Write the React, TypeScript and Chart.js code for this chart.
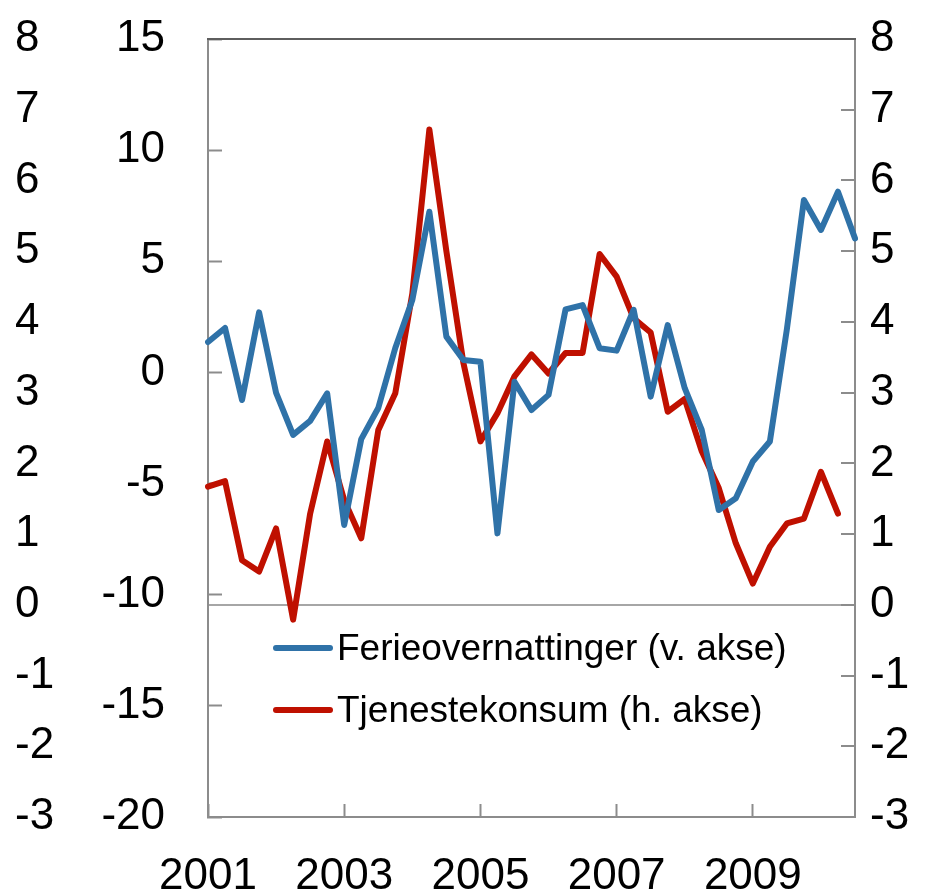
import React, { useEffect, useRef } from "react";
import { Chart, registerables } from "chart.js";

Chart.register(...registerables);

const years = [2001, 2002, 2003, 2004, 2005, 2006, 2007, 2008, 2009, 2010];
const quarters: string[] = [];
years.forEach((y) => {
  for (let q = 1; q <= 4; q++) quarters.push(`${y}K${q}`);
});
const categories = quarters.slice(0, 39); // 2001K1 .. 2010K3

const ferieovernattinger = [
  1.37, 2.0, -1.24, 2.7, -0.92, -2.81, -2.18, -0.94, -6.86, -3.0,
  -1.6, 1.1, 3.26, 7.23, 1.61, 0.56, 0.48, -7.24, -0.42, -1.69,
  -1.01, 2.84, 3.03, 1.09, 0.98, 2.82, -1.09, 2.13, -0.71, -2.59,
  -6.19, -5.66, -4.01, -3.11, 1.95, 7.76, 6.41, 8.13, 6.03,
];

const tjenestekonsum = [
  1.67, 1.75, 0.63, 0.47, 1.08, -0.21, 1.29, 2.31, 1.48, 0.94,
  2.47, 2.99, 4.4, 6.72, 5.0, 3.42, 2.31, 2.71, 3.23, 3.54,
  3.27, 3.56, 3.56, 4.96, 4.64, 4.05, 3.85, 2.73, 2.91, 2.17,
  1.65, 0.87, 0.3, 0.82, 1.15, 1.22, 1.88, 1.29,
];

const leftTicks = { min: -20, max: 15, step: 5 };
const rightTicks = { min: -3, max: 8, step: 1 };
const labelEvery = 8;

const seriesNames = ["Ferieovernattinger (v. akse)", "Tjenestekonsum (h. akse)"];
const seriesColors = ["#2f72a8", "#bf1000"];

const FONT = "'Liberation Sans', Arial, sans-serif";
const AXIS_GRAY = "#8c8c8c";
const LINE_W = 6;

const noPad = (s: any) => {
  s.paddingTop = 0;
  s.paddingBottom = 0;
  s.paddingLeft = 0;
  s.paddingRight = 0;
};

const legendPlugin = {
  id: "insideLegend",
  afterDraw(chart: any) {
    const { ctx, chartArea } = chart;
    ctx.save();
    const x0 = chartArea.left + 68;
    const rows = [chartArea.top + 609, chartArea.top + 671];
    chart.data.datasets.forEach((ds: any, i: number) => {
      const y = rows[i];
      ctx.strokeStyle = ds.borderColor;
      ctx.lineWidth = LINE_W;
      ctx.lineCap = "round";
      ctx.beginPath();
      ctx.moveTo(x0, y);
      ctx.lineTo(x0 + 54, y);
      ctx.stroke();
      ctx.fillStyle = "#000";
      ctx.font = `37px ${FONT}`;
      ctx.textBaseline = "middle";
      ctx.textAlign = "left";
      ctx.fillText(ds.label, x0 + 61, y + 2);
    });
    ctx.restore();
  },
};

export default function App() {
  const ref = useRef<HTMLCanvasElement | null>(null);

  useEffect(() => {
    if (!ref.current) return;
    const tickFont = { family: FONT, size: 44 };
    const chart = new Chart(ref.current, {
      type: "line",
      data: {
        labels: categories,
        datasets: [
          {
            label: seriesNames[0],
            data: ferieovernattinger,
            borderColor: seriesColors[0],
            backgroundColor: seriesColors[0],
            borderWidth: LINE_W,
            pointRadius: 0,
            tension: 0,
            borderJoinStyle: "round",
            borderCapStyle: "round",
            yAxisID: "y",
          },
          {
            label: seriesNames[1],
            data: tjenestekonsum,
            borderColor: seriesColors[1],
            backgroundColor: seriesColors[1],
            borderWidth: LINE_W,
            pointRadius: 0,
            tension: 0,
            borderJoinStyle: "round",
            borderCapStyle: "round",
            yAxisID: "y1",
          },
        ],
      },
      options: {
        responsive: false,
        animation: false,
        layout: { padding: { left: 15, top: 39, right: 0, bottom: 0 } },
        plugins: {
          legend: { display: false },
          tooltip: { enabled: false },
        },
        scales: {
          yOuter: {
            type: "linear",
            position: "left",
            weight: 1,
            min: rightTicks.min,
            max: rightTicks.max,
            ticks: {
              stepSize: rightTicks.step,
              crossAlign: "far",
              font: tickFont,
              color: "#000",
              padding: 0,
            },
            grid: { display: false },
            border: { display: false },
            afterFit: (s: any) => {
              s.width = 78;
              noPad(s);
            },
          },
          y: {
            type: "linear",
            position: "left",
            weight: 0,
            min: leftTicks.min,
            max: leftTicks.max,
            ticks: {
              stepSize: leftTicks.step,
              font: tickFont,
              color: "#000",
              padding: 57,
            },
            grid: {
              drawOnChartArea: false,
              tickLength: -14,
              tickColor: AXIS_GRAY,
              tickWidth: 2,
              color: AXIS_GRAY,
            },
            border: { color: AXIS_GRAY, width: 2 },
            afterFit: (s: any) => {
              s.width = 115;
              noPad(s);
            },
          },
          y1: {
            type: "linear",
            position: "right",
            min: rightTicks.min,
            max: rightTicks.max,
            ticks: {
              stepSize: rightTicks.step,
              font: tickFont,
              color: "#000",
              padding: 29,
            },
            grid: {
              drawOnChartArea: true,
              tickLength: -14,
              tickColor: AXIS_GRAY,
              tickWidth: 2,
              lineWidth: 2,
              color: (c: any) => (c.tick && c.tick.value === 0 ? "#a6a6a6" : "rgba(0,0,0,0)"),
            },
            border: { color: AXIS_GRAY, width: 2 },
            afterFit: (s: any) => {
              s.width = 83;
              noPad(s);
            },
          },
          x: {
            type: "category",
            position: "bottom",
            offset: false,
            afterBuildTicks: (s: any) => {
              s.ticks = s.ticks.filter((t: any) => t.value % labelEvery === 0);
            },
            ticks: {
              autoSkip: false,
              maxRotation: 0,
              font: tickFont,
              color: "#000",
              padding: 46,
              callback: function (this: any, v: any) {
                return String(this.getLabelForValue(v)).slice(0, 4);
              },
            },
            grid: {
              drawOnChartArea: false,
              tickLength: -13,
              tickColor: AXIS_GRAY,
              tickWidth: 2,
              color: AXIS_GRAY,
            },
            border: { color: AXIS_GRAY, width: 2 },
            afterFit: (s: any) => {
              s.height = 78;
              noPad(s);
            },
          },
          xTop: {
            type: "category",
            position: "top",
            offset: false,
            ticks: { display: false },
            grid: { display: false },
            border: { color: "#5e5e5e", width: 2 },
            afterFit: (s: any) => {
              s.height = 0;
              noPad(s);
            },
          },
        },
      },
      plugins: [legendPlugin],
    } as any);
    return () => chart.destroy();
  }, []);

  return (
    <canvas
      ref={ref}
      width={938}
      height={895}
      style={{ position: "absolute", left: 0, top: 0 }}
    />
  );
}
